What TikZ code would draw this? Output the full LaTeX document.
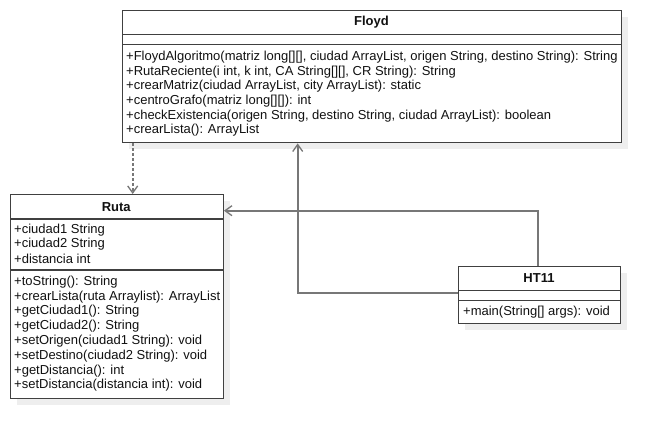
\documentclass[tikz,border=0pt]{standalone}
\usepackage{fontspec}
\setmainfont{Liberation Sans}
\usetikzlibrary{arrows.meta}
\definecolor{boxline}{HTML}{404040}
\definecolor{connline}{HTML}{777777}
\definecolor{shadowc}{HTML}{EEEEEE}
\definecolor{txt}{HTML}{111111}
\tikzset{
  classbox/.style={draw=boxline, line width=1.4pt, fill=white, inner sep=0pt, anchor=north west},
  shadowbox/.style={fill=shadowc, draw=none, inner sep=0pt, anchor=north west},
  sepline/.style={draw=boxline, line width=1.4pt},
  member/.style={anchor=west, inner sep=0pt, text=txt, font=\fontsize{13}{15}\selectfont},
  ctitle/.style={anchor=center, inner sep=0pt, text=txt, font=\fontsize{13}{15}\selectfont\bfseries},
  conn/.style={draw=connline, line width=1.8pt, -{Straight Barb[length=7pt,width=10pt,line width=1.3pt]}},
  depconn/.style={conn, dash pattern=on 3pt off 2pt}
}
\begin{document}
\begin{tikzpicture}[x=1pt,y=-1pt]
\useasboundingbox (0,0) rectangle (661,439);
\fill[white] (0,0) rectangle (661,439);

% shadows
\node[shadowbox, minimum width=499pt, minimum height=132pt] (floydsh) at (129,17) {};
\node[shadowbox, minimum width=212.5pt, minimum height=204pt] (rutash) at (17,201) {};
\node[shadowbox, minimum width=162pt, minimum height=57pt] (htsh) at (465,273) {};

% Floyd
\node[classbox, minimum width=499pt, minimum height=132pt] (floyd) at (122,10) {};
\draw[sepline] (122,34.7) -- (621,34.7);
\draw[sepline] (122,44.7) -- (621,44.7);
\node[ctitle] (floydt) at (371.5,22.5) {Floyd};
\node[member] (f1) at (126,57) {+FloydAlgoritmo(matriz long[][], ciudad ArrayList, origen String, destino String): String};
\node[member] (f2) at (126,71.7) {+RutaReciente(i int, k int, CA String[][], CR String): String};
\node[member] (f3) at (126,86.4) {+crearMatriz(ciudad ArrayList, city ArrayList): static};
\node[member] (f4) at (126,101.1) {+centroGrafo(matriz long[][]): int};
\node[member] (f5) at (126,115.8) {+checkExistencia(origen String, destino String, ciudad ArrayList): boolean};
\node[member] (f6) at (126,130.5) {+crearLista(): ArrayList};

% Ruta
\node[classbox, minimum width=212.5pt, minimum height=204pt] (ruta) at (10,194) {};
\draw[sepline] (10,219) -- (222.5,219);
\draw[sepline] (10,270) -- (222.5,270);
\node[ctitle] (rutat) at (116.2,206.7) {Ruta};
\node[member] (r1) at (14,230) {+ciudad1 String};
\node[member] (r2) at (14,244.5) {+ciudad2 String};
\node[member] (r3) at (14,259) {+distancia int};
\node[member] (r4) at (14,282) {+toString(): String};
\node[member] (r5) at (14,296.8) {+crearLista(ruta Arraylist): ArrayList};
\node[member] (r6) at (14,311.6) {+getCiudad1(): String};
\node[member] (r7) at (14,326.4) {+getCiudad2(): String};
\node[member] (r8) at (14,341.2) {+setOrigen(ciudad1 String): void};
\node[member] (r9) at (14,356) {+setDestino(ciudad2 String): void};
\node[member] (r10) at (14,370.8) {+getDistancia(): int};
\node[member] (r11) at (14,385.6) {+setDistancia(distancia int): void};

% HT11
\node[classbox, minimum width=162pt, minimum height=57pt] (ht) at (458,266) {};
\draw[sepline] (458,290.7) -- (620,290.7);
\draw[sepline] (458,300.7) -- (620,300.7);
\node[ctitle] (htt) at (539,278.5) {HT11};
\node[member] (h1) at (463,311.7) {+main(String[] args): void};

% connectors
\coordinate (depstart) at (floyd.south west -| 132.7,0);
\coordinate (depend) at (ruta.north -| 132.7,0);
\draw[depconn] (depstart) -- (depend);

\coordinate (htleft) at (ht.west |- 0,293.3);
\coordinate (bend1) at (297.7,293.3);
\coordinate (floydin) at (floyd.south -| 297.7,0);
\draw[conn] (htleft) -- (bend1) -- (floydin);

\coordinate (httop) at (ht.north -| 537.7,0);
\coordinate (bend2) at (537.7,210.7);
\coordinate (rutain) at (ruta.east |- 0,210.7);
\draw[conn] (httop) -- (bend2) -- (rutain);
\end{tikzpicture}
\end{document}
